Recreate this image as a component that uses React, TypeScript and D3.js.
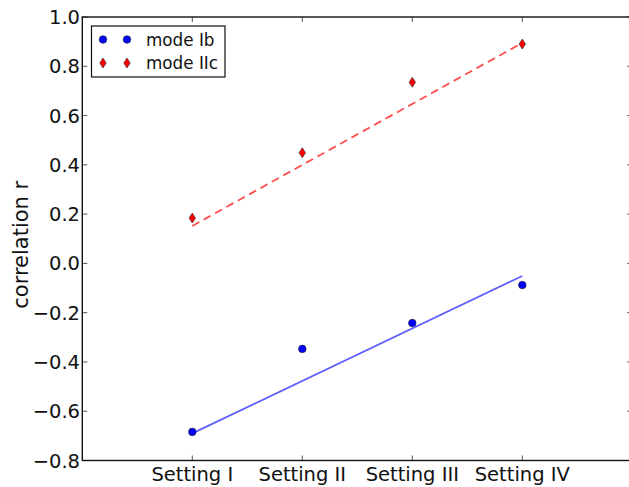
import { useEffect, useRef } from 'react';
import * as d3 from 'd3';

const settings = ['Setting I', 'Setting II', 'Setting III', 'Setting IV'];
const modeIb = [-0.684, -0.347, -0.242, -0.088];
const modeIIc = [0.184, 0.449, 0.735, 0.890];
// fitted trend lines, endpoints read at Setting I and Setting IV
const fitIb = [-0.69, -0.051];
const fitIIc = [0.152, 0.895];
const yTicks = [-0.8, -0.6, -0.4, -0.2, 0.0, 0.2, 0.4, 0.6, 0.8, 1.0];

export default function App() {
  const ref = useRef<SVGSVGElement | null>(null);

  useEffect(() => {
    if (!ref.current) return;
    const svg = d3.select(ref.current);
    svg.selectAll('*').remove();

    const W = 629;
    const H = 487;
    const left = 82.3, right = 632.3, top = 17, bottom = 460.5;
    const font = 'DejaVu Sans, sans-serif';

    svg.append('rect').attr('width', W).attr('height', H).attr('fill', '#fff');

    const x = d3.scaleLinear().domain([0, 5]).range([left, right]);
    const y = d3.scaleLinear().domain([-0.8, 1.0]).range([bottom, top]);

    const g = svg.append('g');

    // ticks (inward, on all four sides)
    const tickLen = 5;
    settings.forEach((_, i) => {
      const px = x(i + 1);
      g.append('line').attr('x1', px).attr('x2', px).attr('y1', bottom).attr('y2', bottom - tickLen)
        .attr('stroke', '#555').attr('stroke-width', 1);
      g.append('line').attr('x1', px).attr('x2', px).attr('y1', top).attr('y2', top + tickLen)
        .attr('stroke', '#555').attr('stroke-width', 1);
      g.append('text').attr('x', px).attr('y', 481)
        .attr('text-anchor', 'middle').attr('font-family', font).attr('font-size', 19.5)
        .attr('fill', '#111').text(settings[i]);
    });

    yTicks.forEach(t => {
      const py = y(t);
      g.append('line').attr('x1', left).attr('x2', left + tickLen).attr('y1', py).attr('y2', py)
        .attr('stroke', '#555').attr('stroke-width', 1);
      g.append('line').attr('x1', right).attr('x2', right - tickLen).attr('y1', py).attr('y2', py)
        .attr('stroke', '#555').attr('stroke-width', 1);
      g.append('text').attr('x', 80).attr('y', py).attr('dy', '0.36em')
        .attr('text-anchor', 'end').attr('font-family', font).attr('font-size', 19.5)
        .attr('fill', '#111').text(d3.format('.1f')(t).replace('-', '\u2212'));
    });

    // y label
    g.append('text')
      .attr('transform', `translate(28, ${(top + bottom) / 2 + 6}) rotate(-90)`)
      .attr('text-anchor', 'middle').attr('font-family', font).attr('font-size', 21)
      .attr('fill', '#111').text('correlation r');

    // fit lines
    const line = d3.line<number>().x((_, i) => x(i === 0 ? 1 : 4)).y(d => y(d));
    g.append('path').datum(fitIIc).attr('d', line).attr('fill', 'none')
      .attr('stroke', '#ff4d4d').attr('stroke-width', 1.8).attr('stroke-dasharray', '8,5');
    g.append('path').datum(fitIb).attr('d', line).attr('fill', 'none')
      .attr('stroke', '#6060ff').attr('stroke-width', 1.8);

    const diamond = (cx: number, cy: number) =>
      `M${cx},${cy - 5}L${cx + 3.2},${cy}L${cx},${cy + 5}L${cx - 3.2},${cy}Z`;

    // markers
    modeIb.forEach((v, i) => {
      g.append('circle').attr('cx', x(i + 1)).attr('cy', y(v)).attr('r', 3.8)
        .attr('fill', '#0000ff').attr('stroke', '#222').attr('stroke-width', 0.6);
    });
    modeIIc.forEach((v, i) => {
      g.append('path').attr('d', diamond(x(i + 1), y(v)))
        .attr('fill', '#ff0000').attr('stroke', '#222').attr('stroke-width', 0.6);
    });

    // spines
    g.append('rect').attr('x', left).attr('y', top).attr('width', right - left).attr('height', bottom - top)
      .attr('fill', 'none').attr('stroke', '#111').attr('stroke-width', 1.4);

    // legend
    const lg = g.append('g');
    lg.append('rect').attr('x', 91.5).attr('y', 26).attr('width', 133.5).attr('height', 51)
      .attr('fill', '#fff').attr('stroke', '#111').attr('stroke-width', 1.2);
    const rows = [
      { label: 'mode Ib', kind: 'circle', y: 39.5 },
      { label: 'mode IIc', kind: 'diamond', y: 63 }
    ];
    rows.forEach(r => {
      [103, 127].forEach(mx => {
        if (r.kind === 'circle') {
          lg.append('circle').attr('cx', mx).attr('cy', r.y).attr('r', 3.8)
            .attr('fill', '#0000ff').attr('stroke', '#222').attr('stroke-width', 0.6);
        } else {
          lg.append('path').attr('d', diamond(mx, r.y))
            .attr('fill', '#ff0000').attr('stroke', '#222').attr('stroke-width', 0.6);
        }
      });
      lg.append('text').attr('x', 146).attr('y', r.y).attr('dy', '0.36em')
        .attr('font-family', font).attr('font-size', 16.8).attr('fill', '#111').text(r.label);
    });
  }, []);

  return (
    <svg ref={ref} width={629} height={487}
      style={{ position: 'absolute', left: 0, top: 0, display: 'block' }} />
  );
}
